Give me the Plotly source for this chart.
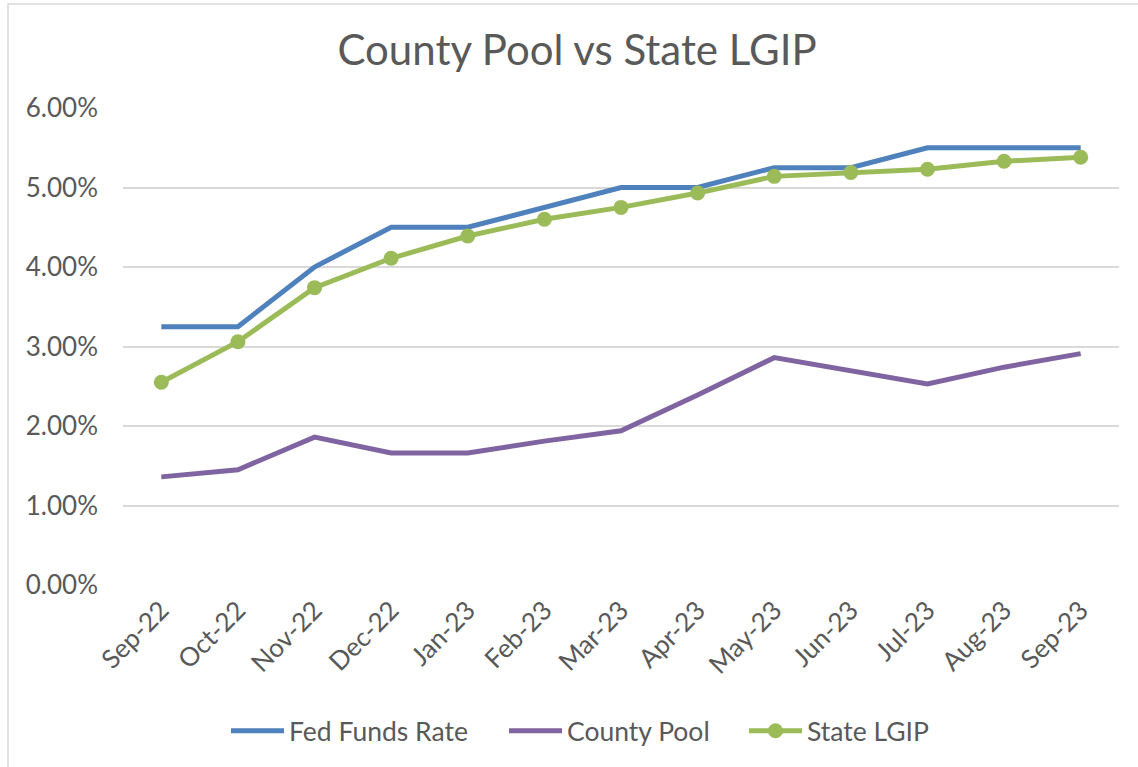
import plotly.graph_objects as go

months = ["Sep-22", "Oct-22", "Nov-22", "Dec-22", "Jan-23", "Feb-23", "Mar-23",
          "Apr-23", "May-23", "Jun-23", "Jul-23", "Aug-23", "Sep-23"]
fed_funds = [3.25, 3.25, 4.00, 4.50, 4.50, 4.75, 5.00, 5.00, 5.25, 5.25, 5.50, 5.50, 5.50]
county_pool = [1.36, 1.45, 1.86, 1.66, 1.66, 1.81, 1.94, 2.39, 2.86, 2.70, 2.53, 2.74, 2.91]
state_lgip = [2.55, 3.06, 3.74, 4.11, 4.39, 4.60, 4.75, 4.93, 5.14, 5.19, 5.23, 5.33, 5.38]
y_ticks = [0, 1, 2, 3, 4, 5, 6]
y_tick_labels = ["0.00%", "1.00%", "2.00%", "3.00%", "4.00%", "5.00%", "6.00%"]

FONT = "Lato"
TXT = "#595959"

fig = go.Figure()
fig.add_trace(go.Scatter(x=months, y=fed_funds, name="Fed Funds Rate", mode="lines",
                         line=dict(color="#4F81BD", width=5), legend="legend"))
fig.add_trace(go.Scatter(x=months, y=county_pool, name="County Pool", mode="lines",
                         line=dict(color="#8064A2", width=5), legend="legend2"))
fig.add_trace(go.Scatter(x=months, y=state_lgip, name="State LGIP", mode="lines+markers",
                         line=dict(color="#9BBB59", width=5),
                         marker=dict(color="#9BBB59", size=15), legend="legend3"))

L, R, T, B = 123, 19, 108, 182
W, H = 1138, 767
pw, ph = W - L - R, H - T - B


def leg(px):
    return dict(orientation="h", xref="container", yref="container",
                x=(px - 6) / W, xanchor="left", y=1 - 731 / H, yanchor="middle",
                font=dict(family=FONT, size=26.5, color=TXT), itemwidth=53,
                bgcolor="rgba(0,0,0,0)")


fig.update_layout(
    width=W, height=H,
    margin=dict(l=L, r=R, t=T, b=B),
    paper_bgcolor="white", plot_bgcolor="white",
    font=dict(family=FONT, color=TXT, size=26),
    title=dict(text="County Pool vs State LGIP", x=(577 - L) / pw, xref="paper", xanchor="center",
               y=1 - 50 / H, yanchor="middle",
               font=dict(family=FONT, size=42, color=TXT)),
    showlegend=True,
    legend=leg(232), legend2=leg(510), legend3=leg(750),
    xaxis=dict(type="category", range=[-0.5, 12.5], tickangle=-45, showgrid=False,
               showline=False, ticks="", ticklabelstandoff=4,
               tickfont=dict(size=26, color=TXT)),
    yaxis=dict(range=[0, 6], tickvals=y_ticks, ticktext=y_tick_labels, showgrid=True,
               gridcolor="#D9D9D9", gridwidth=1.5, zeroline=False, showline=False,
               ticks="", ticklabelstandoff=24, tickfont=dict(size=26, color=TXT)),
    shapes=[dict(type="rect", xref="paper", yref="paper",
                 x0=(8 - L) / pw, x1=(W + 20 - L) / pw,
                 y0=-(H + 20 - (H - B)) / ph, y1=1 + (T - 4) / ph,
                 line=dict(color="#D9D9D9", width=1.5), fillcolor="rgba(0,0,0,0)", layer="below")],
)

fig.write_html("out.html", config={"displayModeBar": False},
               post_script="document.body.style.margin='0';document.body.style.overflow='hidden';")
